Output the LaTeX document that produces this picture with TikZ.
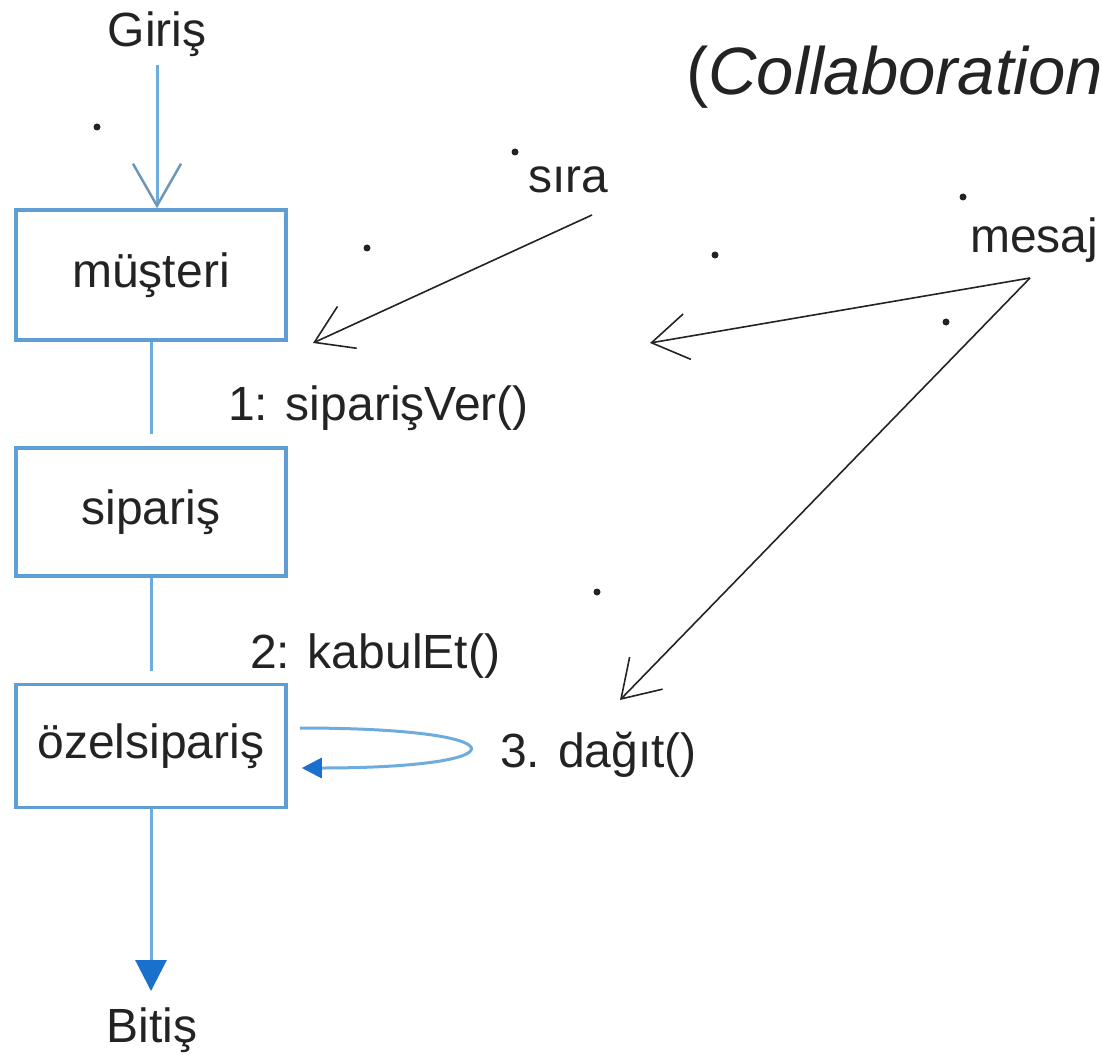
\documentclass[tikz,border=0pt]{standalone}
\usepackage{fontspec}
\setmainfont{Liberation Sans}
\usetikzlibrary{arrows.meta}
\definecolor{boxblue}{RGB}{95,158,212}
\definecolor{lineblue}{RGB}{110,172,222}
\definecolor{headblue}{RGB}{25,112,205}
\definecolor{barbgray}{RGB}{110,150,180}
\definecolor{ink}{RGB}{35,35,35}
\begin{document}
\begin{tikzpicture}[x=1pt,y=-1pt,
  every node/.style={font=\fontsize{48}{58}\selectfont, text=ink, inner sep=0pt},
  obj/.style={draw=boxblue, line width=3.5pt, fill=white, minimum width=270pt},
  link/.style={draw=lineblue, line width=3pt},
  msg/.style={draw=ink, line width=1.6pt, -{Straight Barb[length=36pt,width=46pt,line width=1.6pt]}}]
\useasboundingbox (0,0) rectangle (1102,1056);
\clip (0,0) rectangle (1102,1056);
% objects
\node[obj, minimum height=130pt] (m) at (151,275) {müşteri};
\node[obj, minimum height=128pt] (s) at (151,512) {sipariş};
\node[obj, minimum height=123pt] (o) at (151,746) {özelsipariş};
% start / end
\node[anchor=base] (giris) at (157,47) {Giriş};
\node[anchor=base] (bitis) at (152,1042) {Bitiş};
% labels
\node[anchor=base west] (l1) at (228,420) {1: siparişVer()};
\node[anchor=base west] (l2) at (250,668) {2: kabulEt()};
\node[anchor=base west] (l3) at (500,767) {3. dağıt()};
\node[anchor=base west] (sira) at (528,193) {sıra};
\node[anchor=base west] (mesaj) at (970,253) {mesaj};
\node[anchor=base west, font=\fontsize{67}{80}\selectfont] (title) at (686,95) {(\textit{Collaboration}};
% links
\draw[link, shorten <=8pt, -{Straight Barb[length=42pt,width=48pt,line width=2.5pt,color=barbgray]}] (giris.south) -- (giris.south |- m.north);
\draw[link, shorten >=12pt] (m.south) -- (s.north);
\draw[link, shorten >=12pt] (s.south) -- (o.north);
\draw[link, shorten >=16pt, -{Triangle[length=31pt,width=31pt,color=headblue]}] (o.south) -- (o.south |- bitis.north);
% self message
\draw[link, -{Triangle[length=20pt,width=20pt,color=headblue]}] ([shift={(12,-18)}]o.east) .. controls (525,728) and (525,768) .. ([shift={(14,22)}]o.east);
% messages
\coordinate (sirafrom) at (592,215);
\coordinate (sirato) at (313,343);
\coordinate (mesajfrom) at (1030,278);
\coordinate (mesajto1) at (650,343);
\coordinate (mesajto2) at (620,700);
\draw[msg] (sirafrom) -- (sirato);
\draw[msg] (mesajfrom) -- (mesajto1);
\draw[msg] (mesajfrom) -- (mesajto2);
% stray dots
\foreach \p in {(97,127),(515,152),(367,248),(715,255),(963,197),(946,322),(597,592)}
  \fill[ink] \p circle (3.5);
\end{tikzpicture}
\end{document}
